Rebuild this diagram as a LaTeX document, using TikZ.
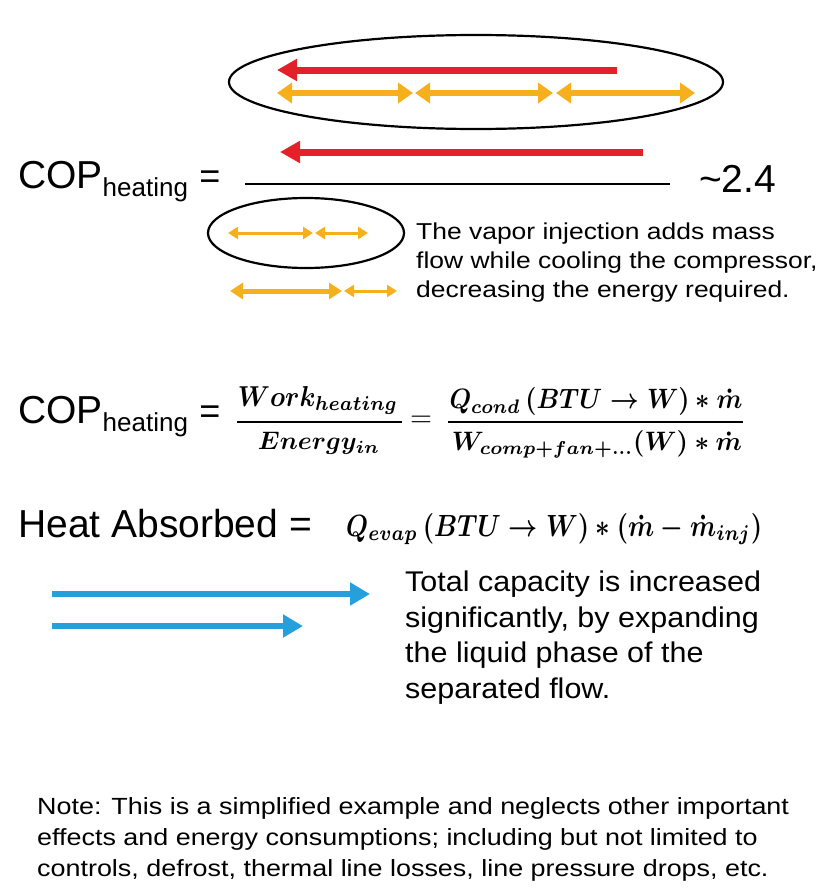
\documentclass[tikz,border=0pt]{standalone}
\usepackage{amsmath}
\usepackage{graphicx}
\usepackage{fontspec}
\setmainfont{Liberation Sans}
\newfontfamily\widesans[FakeStretch=1.15]{Liberation Sans}
\newfontfamily\capsans[FakeStretch=1.07]{Liberation Sans}
\usetikzlibrary{arrows.meta}
\definecolor{arrred}{RGB}{228,32,40}
\definecolor{arryel}{RGB}{246,176,30}
\definecolor{arrblue}{RGB}{38,160,220}
\newcommand{\bigeq}{\resizebox{22pt}{!}{$=$}}
\tikzset{
  bigtxt/.style={inner sep=0pt, anchor=base west, font=\fontsize{39}{39}\selectfont},
  vaptxt/.style={inner sep=0pt, anchor=base west, font=\widesans\fontsize{23}{27}\selectfont},
  captxt/.style={inner sep=0pt, anchor=base west, font=\capsans\fontsize{28.5}{31}\selectfont},
  notetxt/.style={inner sep=0pt, anchor=base west, font=\widesans\fontsize{23.4}{27}\selectfont},
  mathtxt/.style={inner sep=0pt},
  redarrow/.style={draw=arrred, line width=7pt, -{Triangle[length=20pt,width=21pt]}},
  yelthick/.style={draw=arryel, line width=5.5pt, {Triangle[length=15pt,width=20pt]}-{Triangle[length=15pt,width=20pt]}},
  yelmid/.style={draw=arryel, line width=5pt, {Triangle[length=13pt,width=16pt]}-{Triangle[length=13pt,width=16pt]}},
  yelthin/.style={draw=arryel, line width=3pt, {Triangle[length=10pt,width=12pt]}-{Triangle[length=10pt,width=12pt]}},
  bluearrow/.style={draw=arrblue, line width=6pt, -{Triangle[length=20pt,width=22pt]}},
  ring/.style={draw=black, line width=2.2pt},
  fracline/.style={draw=black, line width=2pt}
}
\begin{document}
\begin{tikzpicture}[x=1pt,y=-1pt]
\useasboundingbox (0,0) rectangle (820,894);

% top ellipse with arrows
\draw[ring] (476,82) ellipse [x radius=247, y radius=47];
\coordinate (r1s) at (617,70); \coordinate (r1e) at (277,70);
\draw[redarrow] (r1s) -- (r1e);
\coordinate (y1a) at (277,93); \coordinate (y1b) at (413,93);
\coordinate (y2a) at (415,93); \coordinate (y2b) at (553,93);
\coordinate (y3a) at (556,93); \coordinate (y3b) at (695,93);
\draw[yelthick] (y1a) -- (y1b);
\draw[yelthick] (y2a) -- (y2b);
\draw[yelthick] (y3a) -- (y3b);

% COP line 1
\node[bigtxt] (cop1) at (18,188) {COP\raisebox{-8pt}{\fontsize{26}{26}\selectfont heating}};
\node[inner sep=0pt, anchor=base, font=\fontsize{36}{36}\selectfont] (eq1) at (210,188) {=};
\coordinate (f1a) at (245,184); \coordinate (f1b) at (670,184);
\draw[fracline] (f1a) -- (f1b);
\coordinate (r2s) at (643,152); \coordinate (r2e) at (280,152);
\draw[redarrow] (r2s) -- (r2e);
\node[bigtxt] (val) at (699,192) {\textasciitilde 2.4};

% small ellipse and yellow arrows
\draw[ring] (306,233) ellipse [x radius=98, y radius=35];
\coordinate (s1a) at (228,233); \coordinate (s1b) at (313,233);
\coordinate (s2a) at (315,233); \coordinate (s2b) at (368,233);
\draw[yelthin] (s1a) -- (s1b);
\draw[yelthin] (s2a) -- (s2b);
\coordinate (t1a) at (230,291); \coordinate (t1b) at (342,291);
\coordinate (t2a) at (344,291); \coordinate (t2b) at (397,291);
\draw[yelmid] (t1a) -- (t1b);
\draw[yelthin] (t2a) -- (t2b);

\node[vaptxt] (v1) at (416,239) {The vapor injection adds mass};
\node[vaptxt] (v2) at (416,268) {flow while cooling the compressor,};
\node[vaptxt] (v3) at (416,297) {decreasing the energy required.};

% COP line 2
\node[bigtxt] (cop2) at (18,423) {COP\raisebox{-8pt}{\fontsize{26}{26}\selectfont heating}};
\node[inner sep=0pt, anchor=base, font=\fontsize{36}{36}\selectfont] (eq2) at (210,423) {=};
\coordinate (g1a) at (237,422); \coordinate (g1b) at (402,422);
\draw[fracline] (g1a) -- (g1b);
\node[mathtxt, anchor=south] (num1) at (318,415) {\resizebox{160pt}{20pt}{\boldmath$Work_{heating}$}};
\node[mathtxt, anchor=north] (den1) at (319,432) {\resizebox{122pt}{!}{\boldmath$Energy_{in}$}};
\node[mathtxt] (eq3) at (421,421) {\bigeq};
\coordinate (g2a) at (448,422); \coordinate (g2b) at (743,422);
\draw[fracline] (g2a) -- (g2b);
\node[mathtxt, anchor=south] (num2) at (596,416) {\resizebox{293pt}{21pt}{\boldmath$Q_{cond}\,(BTU \rightarrow W) \ast \dot{m}$}};
\node[mathtxt, anchor=north] (den2) at (597,430) {\resizebox{290pt}{20pt}{\boldmath$W_{comp+fan+\dots}(W) \ast \dot{m}$}};

% Heat absorbed
\node[bigtxt] (heat) at (18,537) {Heat Absorbed =};
\node[mathtxt, anchor=base west] (qevap) at (346,536) {\resizebox{416pt}{23pt}{\boldmath$Q_{evap}\,(BTU \rightarrow W) \ast (\dot{m} - \dot{m}_{inj})$}};

% blue arrows
\coordinate (b1a) at (52,594); \coordinate (b1b) at (370,594);
\coordinate (b2a) at (52,626); \coordinate (b2b) at (303,626);
\draw[bluearrow] (b1a) -- (b1b);
\draw[bluearrow] (b2a) -- (b2b);

\node[captxt] (c1) at (405,591) {Total capacity is increased};
\node[captxt] (c2) at (405,627) {significantly, by expanding};
\node[captxt] (c3) at (405,662) {the liquid phase of the};
\node[captxt] (c4) at (405,698) {separated flow.};

% note
\node[notetxt] (n1) at (37,814) {Note: This is a simplified example and neglects other important};
\node[notetxt] (n2) at (37,845) {effects and energy consumptions; including but not limited to};
\node[notetxt] (n3) at (37,876) {controls, defrost, thermal line losses, line pressure drops, etc.};
\end{tikzpicture}
\end{document}
